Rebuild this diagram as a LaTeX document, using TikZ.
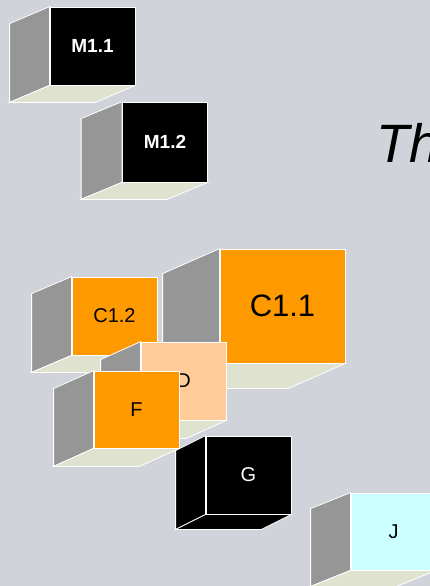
\documentclass[tikz,border=0pt]{standalone}
\usepackage{fontspec}
\setmainfont{Liberation Sans}
\definecolor{bgc}{HTML}{D1D3DB}
\definecolor{sidegray}{HTML}{969696}
\definecolor{floorc}{HTML}{DEE2CE}
\definecolor{orangec}{HTML}{FF9900}
\definecolor{peachc}{HTML}{FFCC99}
\definecolor{cyanc}{HTML}{CCFFFF}
\tikzset{
  edge/.style={draw=white, line width=0.8pt, line join=miter},
  face/.style={edge, rectangle, inner sep=0pt, minimum width=85pt, minimum height=78pt, font=\fontsize{20}{20}\selectfont},
}
% #1 node name, #2 dx, #3 dy, #4 side colour, #5 bottom colour
\newcommand\boxsides[5]{%
  \draw[edge, fill=#4] (#1.north west) -- ++(#2,#3) -- ([shift={(#2,#3)}]#1.south west) -- (#1.south west) -- cycle;
  \draw[edge, fill=#5] (#1.south west) -- (#1.south east) -- ([shift={(#2,#3)}]#1.south east) -- ([shift={(#2,#3)}]#1.south west) -- cycle;
}
\begin{document}
\begin{tikzpicture}[x=1pt,y=-1pt]
\useasboundingbox (0,0) rectangle (430,586);
\clip (0,0) rectangle (430,586);
\fill[bgc] (0,0) rectangle (430,586);

\node[anchor=base west, font=\fontsize{54}{54}\selectfont\itshape] (title) at (373,162) {Th};

\node[face, fill=black, text=white, font=\fontsize{19}{19}\selectfont\bfseries] (m11) at (92.5,46) {M1.1};
\boxsides{m11}{-40}{17}{sidegray}{floorc}

\node[face, fill=black, text=white, font=\fontsize{19}{19}\selectfont\bfseries, minimum height=80pt] (m12) at (165,142) {M1.2};
\boxsides{m12}{-41}{17}{sidegray}{floorc}

\node[face, fill=orangec, minimum width=125pt, minimum height=114pt, font=\fontsize{31}{31}\selectfont] (c11) at (282.5,306) {C1.1};
\boxsides{c11}{-57}{25}{sidegray}{floorc}

\node[face, fill=orangec] (c12) at (114.5,316) {C1.2};
\boxsides{c12}{-40}{17}{sidegray}{floorc}

\node[face, fill=peachc] (d) at (183.5,381) {D};
\boxsides{d}{-40}{18}{sidegray}{floorc}

\node[face, fill=orangec, minimum height=77pt] (f) at (136.5,409.5) {F};
\boxsides{f}{-40}{18}{sidegray}{floorc}

\node[face, fill=black, text=white] (g) at (248.5,475) {G};
\boxsides{g}{-30}{15}{black}{black}

\node[face, fill=cyanc, minimum height=77pt] (j) at (393.5,531.5) {J};
\boxsides{j}{-40}{16}{sidegray}{floorc}
\end{tikzpicture}
\end{document}
